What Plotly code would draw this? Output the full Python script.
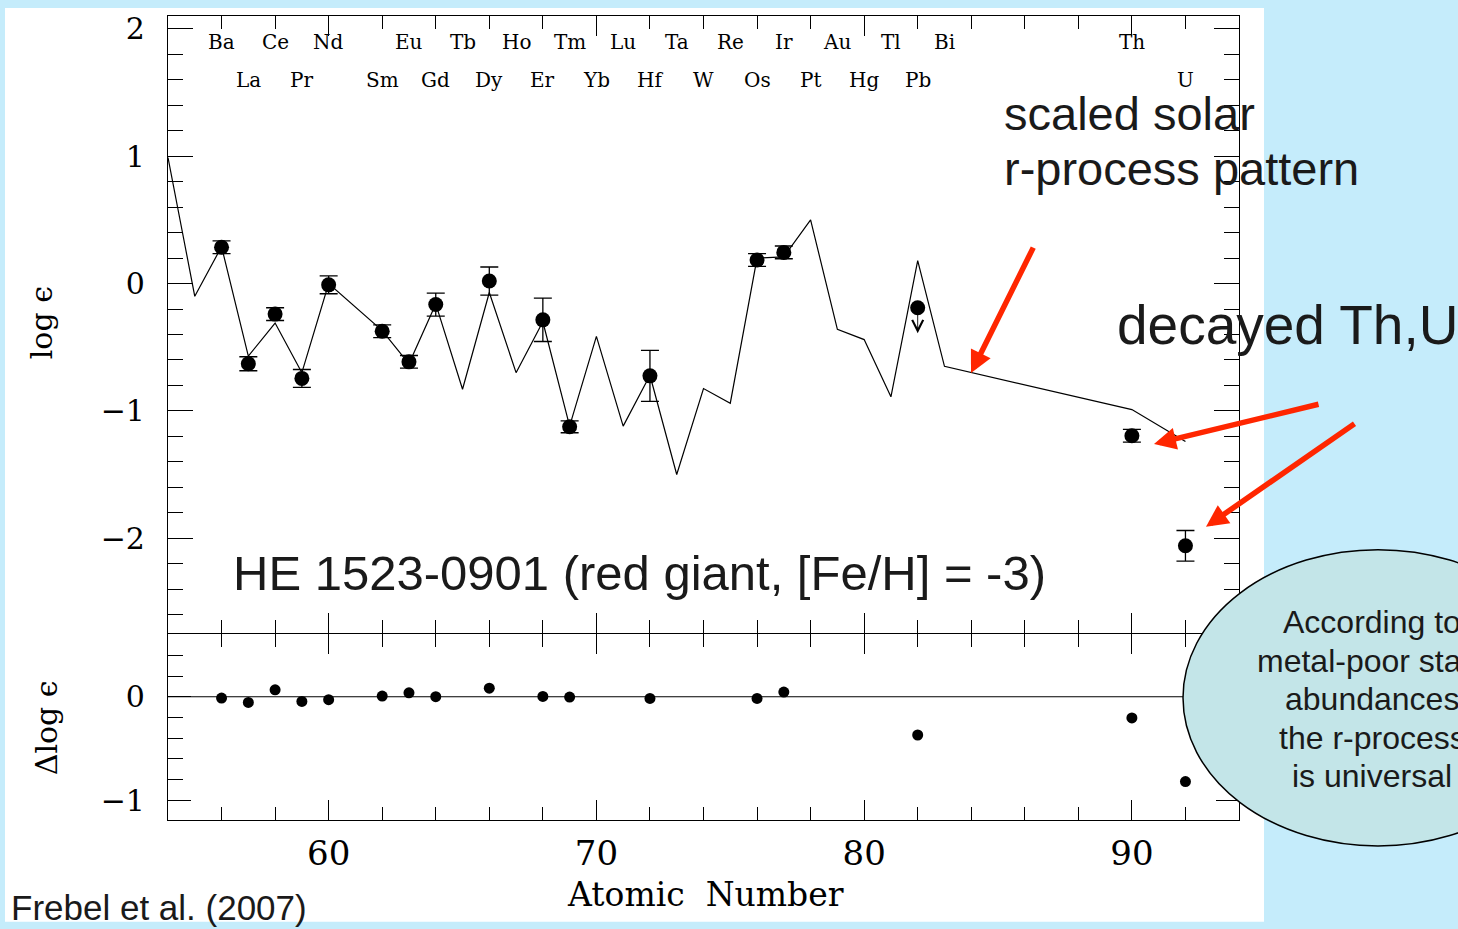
import plotly.graph_objects as go

# ---------------------------------------------------------------- data
# scaled solar r-process pattern (atomic number, log eps)
solar_z = [54, 55, 56, 57, 58, 59, 60, 62, 63, 64, 65, 66, 67, 68, 69, 70,
           71, 72, 73, 74, 75, 76, 77, 78, 79, 80, 81, 82, 83, 90, 92]
solar_log_eps = [0.99, -0.10, 0.29, -0.57, -0.31, -0.70, 0.00, -0.37, -0.63,
                 -0.16, -0.83, -0.07, -0.70, -0.30, -1.12, -0.415, -1.12,
                 -0.72, -1.50, -0.825, -0.94, 0.20, 0.21, 0.50, -0.36, -0.44,
                 -0.89, 0.18, -0.65, -0.99, -1.24]

# HE 1523-0901 abundances
obs_z = [56, 57, 58, 59, 60, 62, 63, 64, 66, 68, 69, 72, 76, 77, 82, 90, 92]
obs_log_eps = [0.285, -0.63, -0.24, -0.745, -0.01, -0.375, -0.615, -0.165,
               0.02, -0.285, -1.125, -0.725, 0.185, 0.245, -0.19, -1.195, -2.06]
obs_err = [0.05, 0.055, 0.05, 0.07, 0.07, 0.05, 0.05, 0.09, 0.11, 0.17,
           0.047, 0.20, 0.05, 0.05, 0.0, 0.05, 0.12]
obs_upper_limit = [False] * 14 + [True] + [False, False]
# residuals: star minus scaled solar pattern
delta_log_eps = [-0.013, -0.055, 0.067, -0.045, -0.029, 0.006, 0.038, 0.0,
                 0.083, 0.003, -0.003, -0.016, -0.016, 0.045, -0.37, -0.205, -0.82]

# element labels along the top of the upper panel
label_row1_z = [56, 58, 60, 63, 65, 67, 69, 71, 73, 75, 77, 79, 81, 83, 90]
label_row1 = ["Ba", "Ce", "Nd", "Eu", "Tb", "Ho", "Tm", "Lu", "Ta", "Re",
              "Ir", "Au", "Tl", "Bi", "Th"]
label_row2_z = [57, 59, 62, 64, 66, 68, 70, 72, 74, 76, 78, 80, 82, 92]
label_row2 = ["La", "Pr", "Sm", "Gd", "Dy", "Er", "Yb", "Hf", "W", "Os",
              "Pt", "Hg", "Pb", "U"]

x_ticks = [60, 70, 80, 90]
pb_limit_len = 0.2

ellipse_lines = ["According to", "metal-poor stars", "abundances",
                 "the r-process", "is universal"]

# ---------------------------------------------------------------- layout helpers
W, H = 1458, 929
L, R, T, B = 168, 1239, 14, 820          # plot area in pixels
SPLIT = 633                               # boundary between the two panels
LW = 1.2                                  # axis line width


def px_x(px):
    return (px - L) / (R - L)


def px_y(py):
    return (B - py) / (B - T)


# axis lines sit outside their domain by LW/2; overlap so the shared line coincides
top_start = (B - SPLIT + LW / 2) / (B - T)
bot_end = (B - SPLIT - LW / 2) / (B - T)

SANS = "Liberation Sans, Arial, sans-serif"
SERIF = "DejaVu Serif, serif"
TXT = "#1a1a1a"
RED = "#ff2600"

meas = [i for i, u in enumerate(obs_upper_limit) if not u]
lims = [i for i, u in enumerate(obs_upper_limit) if u]

fig = go.Figure()

# upper panel: solar pattern and measured abundances
fig.add_trace(go.Scatter(x=solar_z, y=solar_log_eps, mode="lines",
                         line=dict(color="black", width=1.2),
                         xaxis="x", yaxis="y", hoverinfo="skip"))
fig.add_trace(go.Scatter(
    x=[obs_z[i] for i in meas], y=[obs_log_eps[i] for i in meas],
    mode="markers", marker=dict(color="black", size=15),
    error_y=dict(type="data", array=[obs_err[i] for i in meas],
                 color="black", thickness=1.3, width=9),
    xaxis="x", yaxis="y"))
fig.add_trace(go.Scatter(
    x=[obs_z[i] for i in lims], y=[obs_log_eps[i] for i in lims],
    mode="markers", marker=dict(color="black", size=15),
    xaxis="x", yaxis="y"))

# lower panel: residuals
fig.add_trace(go.Scatter(x=obs_z, y=delta_log_eps, mode="markers",
                         marker=dict(color="black", size=11),
                         xaxis="x2", yaxis="y2"))

annotations = []


def text_note(x, y, text, size, family, color=TXT, xanchor="center", xref="paper", **kw):
    return dict(x=x, y=y, xref=xref, yref="paper", text=text, showarrow=False,
                xanchor=xanchor, yanchor="middle",
                font=dict(family=family, size=size, color=color), **kw)


# upper-limit arrows
for i in lims:
    annotations.append(dict(
        x=obs_z[i], y=obs_log_eps[i] - pb_limit_len, xref="x", yref="y",
        ax=obs_z[i], ay=obs_log_eps[i], axref="x", ayref="y",
        showarrow=True, arrowhead=5, arrowsize=2.4, arrowwidth=0.9,
        arrowcolor="black", text=""))

# element labels
for z, s in zip(label_row1_z, label_row1):
    annotations.append(text_note(z, px_y(40), s, 20, SERIF, "black", xref="x"))
for z, s in zip(label_row2_z, label_row2):
    annotations.append(text_note(z, px_y(78), s, 20, SERIF, "black", xref="x"))

# axis titles
annotations += [
    text_note(px_x(41), px_y(322), "log ϵ", 30, SERIF, "black", textangle=-90),
    text_note(px_x(46), px_y(728), "Δlog ϵ", 30, SERIF, "black", textangle=-90),
    text_note(px_x(705), px_y(895), "Atomic  Number", 33, SERIF, "black"),
]

# slide text
annotations += [
    text_note(px_x(1002), px_y(112), "scaled solar", 47, SANS, xanchor="left"),
    text_note(px_x(1002), px_y(167), "r-process pattern", 47, SANS, xanchor="left"),
    text_note(px_x(1115), px_y(324), "decayed Th,U", 55, SANS, xanchor="left"),
    text_note(px_x(639), px_y(572), "HE 1523-0901 (red giant, [Fe/H] = -3)", 49, SANS),
    text_note(px_x(9), px_y(908), "Frebel et al. (2007)", 35, SANS, xanchor="left"),
]
for k, line in enumerate(ellipse_lines):
    annotations.append(text_note(px_x(1372), px_y(622 + 38.5 * k), line, 32, SANS))

# red pointer arrows (head position, tail position in pixels)
for hx, hy, tx, ty in [(971, 372, 1034, 245), (1154, 443, 1320, 403), (1206, 526, 1356, 422)]:
    annotations.append(dict(x=px_x(hx), y=px_y(hy), xref="paper", yref="paper",
                            ax=tx - hx, ay=ty - hy, showarrow=True, arrowhead=2,
                            arrowsize=0.8, arrowwidth=5.5, arrowcolor=RED, text=""))

shapes = [
    dict(type="rect", xref="paper", yref="paper", x0=px_x(5), x1=px_x(1264),
         y0=px_y(922), y1=px_y(6), fillcolor="white", line=dict(width=0), layer="below"),
    dict(type="line", xref="x2 domain", yref="y2", x0=0, x1=1, y0=0, y1=0,
         line=dict(color="black", width=1.2), layer="below"),
    dict(type="circle", xref="paper", yref="paper", x0=px_x(1183), x1=px_x(1573),
         y0=px_y(846), y1=px_y(549), fillcolor="#c3e5e8",
         line=dict(color="black", width=1.5), layer="above"),
]

axis_common = dict(showline=True, linecolor="black", linewidth=LW, mirror="allticks",
                   ticks="inside", tickcolor="black", tickwidth=1.2,
                   showgrid=False, zeroline=False)
minor_common = dict(ticks="inside", tickcolor="black", tickwidth=1.1)

fig.update_layout(
    width=W, height=H,
    margin=dict(l=L, r=W - R, t=T, b=H - B),
    paper_bgcolor="#c5ecfb", plot_bgcolor="white",
    showlegend=False,
    xaxis=dict(domain=[0, 1], anchor="y", range=[54, 94], dtick=10, tick0=0,
               ticklen=20, showticklabels=False,
               minor=dict(dtick=2, ticklen=13, **minor_common),
               **axis_common),
    yaxis=dict(domain=[top_start, 1], anchor="x", range=[-2.744, 2.102], dtick=1, tick0=0,
               ticklen=25, ticklabelstandoff=16,
               tickfont=dict(family=SERIF, size=30, color="black"),
               minor=dict(dtick=0.2, ticklen=15, **minor_common),
               **axis_common),
    xaxis2=dict(domain=[0, 1], anchor="y2", range=[54, 94], matches="x",
                tickvals=x_ticks, ticklen=20, ticklabelstandoff=3,
                tickfont=dict(family=SERIF, size=34, color="black"),
                minor=dict(dtick=2, tick0=0, ticklen=13, **minor_common),
                **axis_common),
    yaxis2=dict(domain=[0, bot_end], anchor="x2", range=[-1.192, 0.606], dtick=1, tick0=0,
                ticklen=23, ticklabelstandoff=16,
                tickfont=dict(family=SERIF, size=30, color="black"),
                minor=dict(dtick=0.2, ticklen=15, **minor_common),
                **axis_common),
    annotations=annotations,
    shapes=shapes,
)

fig.write_html("out.html")
